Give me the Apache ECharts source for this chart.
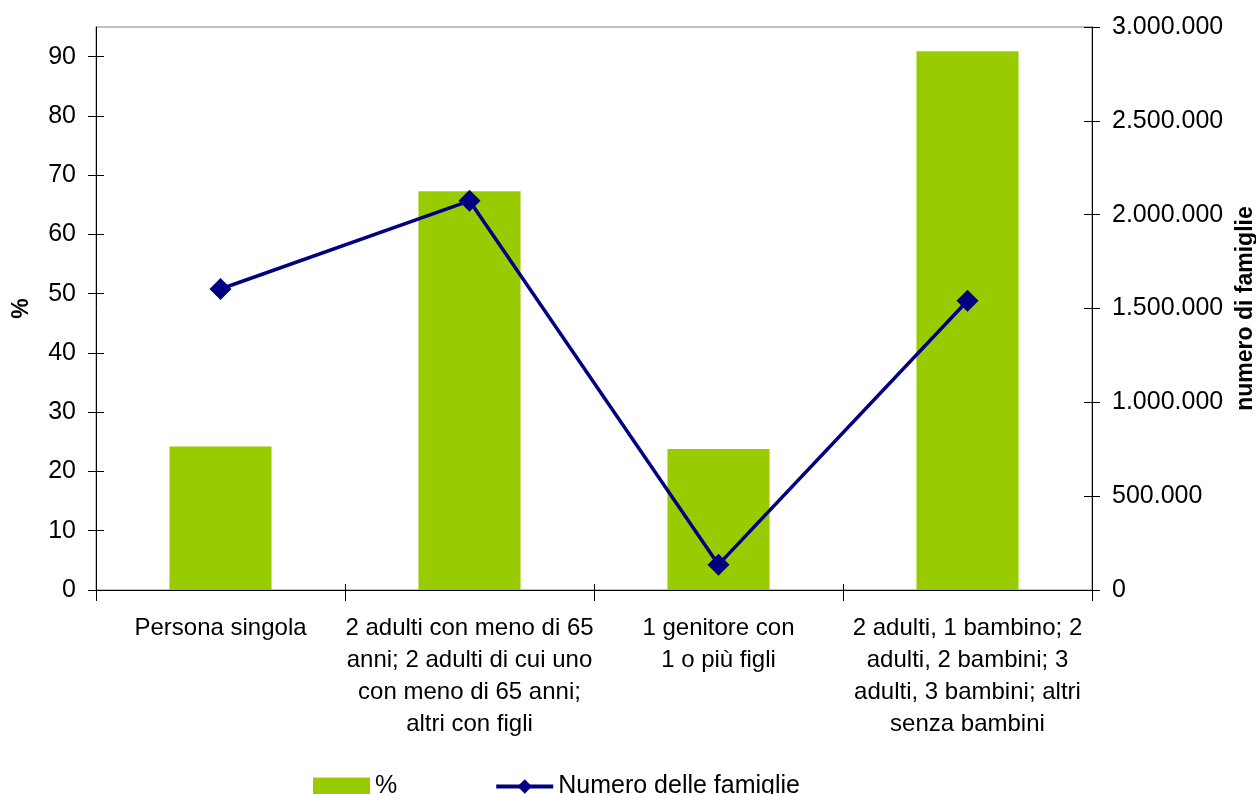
<!DOCTYPE html>
<html>
<head>
<meta charset="utf-8">
<script src="https://cdn.jsdelivr.net/npm/echarts@6/dist/echarts.min.js"></script>
<style>
html,body{margin:0;padding:0;background:#fff;}
#chart{width:1256px;height:794px;}
</style>
</head>
<body>
<div id="chart"></div>
<script>
const categories = [
  "Persona singola",
  "2 adulti con meno di 65\nanni; 2 adulti di cui uno\ncon meno di 65 anni;\naltri con figli",
  "1 genitore con\n1 o più figli",
  "2 adulti, 1 bambino; 2\nadulti, 2 bambini; 3\nadulti, 3 bambini; altri\nsenza bambini"
];
const percentValues = [24.2, 67.3, 23.8, 90.9];
const familyCounts = [1604000, 2074000, 135000, 1541000];
const leftTicks = [0, 10, 20, 30, 40, 50, 60, 70, 80, 90];
const seriesNames = ["%", "Numero delle famiglie"];

const FONT = '"Liberation Sans", Arial, sans-serif';
const fmt = v => String(v).replace(/\B(?=(\d{3})+(?!\d))/g, '.');

const chart = echarts.init(document.getElementById('chart'), null, {renderer: 'canvas'});
const lineBlack = {show: true, lineStyle: {color: '#000', width: 1}};
chart.setOption({
  animation: false,
  backgroundColor: '#fff',
  textStyle: {fontFamily: FONT, color: '#000'},
  grid: {left: 96, right: 164, top: 27, bottom: 204, show: true, borderColor: '#808080', borderWidth: 1, backgroundColor: 'transparent', containLabel: false, outerBoundsMode: 'none'},
  legend: {
    left: 313, top: 774, padding: 0,
    itemWidth: 57, itemHeight: 18, itemGap: 97,
    textStyle: {fontSize: 25, color: '#000', fontFamily: FONT},
    lineStyle: {width: 4},
    data: [{name: seriesNames[0], icon: 'rect'}, {name: seriesNames[1]}]
  },
  xAxis: [{
    type: 'category', data: categories, position: 'bottom',
    axisLine: lineBlack,
    axisTick: {show: true, length: 11, lineStyle: {color: '#000'}},
    axisLabel: {interval: 0, fontSize: 24, lineHeight: 32, margin: 22, color: '#000', fontFamily: FONT, align: 'center'}
  }, {
    type: 'category', data: categories, position: 'bottom',
    axisLine: {show: false},
    axisTick: {show: true, inside: true, length: 6, lineStyle: {color: '#000'}},
    axisLabel: {show: false}
  }],
  yAxis: [{
    type: 'value', position: 'left', min: 0, max: 95, interval: 10,
    name: '%', nameLocation: 'middle', nameGap: 63, nameRotate: 90,
    nameTextStyle: {fontSize: 23, fontWeight: 'bold', color: '#000', fontFamily: FONT},
    axisLine: lineBlack,
    axisTick: {show: true, length: 8, lineStyle: {color: '#000'}, customValues: leftTicks},
    axisLabel: {fontSize: 25, margin: 20, color: '#000', fontFamily: FONT, customValues: leftTicks},
    splitLine: {show: false}
  }, {
    type: 'value', position: 'right', min: 0, max: 3000000, interval: 500000,
    name: 'numero di famiglie', nameLocation: 'middle', nameGap: 130, nameRotate: 90,
    nameTextStyle: {fontSize: 23, fontWeight: 'bold', color: '#000', fontFamily: FONT},
    axisLine: lineBlack,
    axisTick: {show: true, length: 8, lineStyle: {color: '#000'}},
    axisLabel: {fontSize: 25, margin: 20, color: '#000', fontFamily: FONT, formatter: fmt},
    splitLine: {show: false}
  }, {
    type: 'value', position: 'left', min: 0, max: 95, interval: 10,
    axisLine: {show: false},
    axisTick: {show: true, inside: true, length: 8, lineStyle: {color: '#000'}, customValues: leftTicks},
    axisLabel: {show: false}, splitLine: {show: false}
  }, {
    type: 'value', position: 'right', min: 0, max: 3000000, interval: 500000,
    axisLine: {show: false},
    axisTick: {show: true, inside: true, length: 8, lineStyle: {color: '#000'}},
    axisLabel: {show: false}, splitLine: {show: false}
  }],
  series: [{
    name: seriesNames[0], type: 'bar', data: percentValues,
    xAxisIndex: 0, yAxisIndex: 0, barWidth: '41%',
    itemStyle: {color: '#99CC00'}, z: 2
  }, {
    name: seriesNames[1], type: 'line', data: familyCounts,
    xAxisIndex: 0, yAxisIndex: 1,
    symbol: 'diamond', symbolSize: 22,
    lineStyle: {color: '#000080', width: 3.5},
    itemStyle: {color: '#000080'}, z: 3
  }]
});
</script>
</body>
</html>
